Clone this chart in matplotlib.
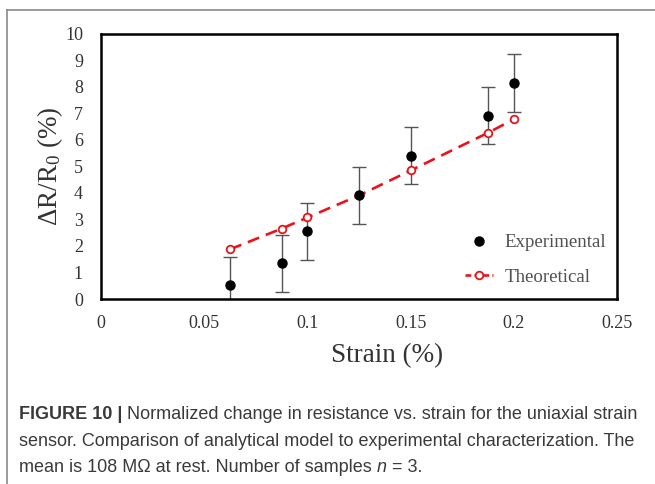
import matplotlib
matplotlib.use("Agg")
import matplotlib.pyplot as plt
from matplotlib.lines import Line2D

plt.rcParams['mathtext.fontset'] = 'custom'
plt.rcParams['mathtext.rm'] = 'Liberation Serif'
plt.rcParams['mathtext.it'] = 'Liberation Serif:italic'

# ---- data ----
strain = [0.0625, 0.0875, 0.1, 0.125, 0.15, 0.1875, 0.2]
experimental = [0.52, 1.35, 2.55, 3.90, 5.39, 6.91, 8.14]
exp_err = [1.08, 1.07, 1.07, 1.08, 1.07, 1.08, 1.08]
theoretical = [1.87, 2.65, 3.07, 3.90, 4.84, 6.26, 6.77]
x_ticks = [0, 0.05, 0.1, 0.15, 0.2, 0.25]
x_tick_labels = ['0', '0.05', '0.1', '0.15', '0.2', '0.25']
y_ticks = list(range(0, 11))
caption_bold = "FIGURE 10 | "
caption_lines = [
    "Normalized change in resistance vs. strain for the uniaxial strain",
    "sensor. Comparison of analytical model to experimental characterization. The",
    "mean is 108 MΩ at rest. Number of samples ",
]

W, H = 655, 484
fig = plt.figure(figsize=(W / 100, H / 100), dpi=100)

# outer frame lines (top and left)
fig.add_artist(Line2D([7 / W, 1], [1 - 10 / H, 1 - 10 / H], color='#8a8a8a', lw=1.2, transform=fig.transFigure))
fig.add_artist(Line2D([7 / W, 7 / W], [0, 1 - 10 / H], color='#8a8a8a', lw=1.2, transform=fig.transFigure))

ax = fig.add_axes([101 / W, 1 - 299 / H, 516 / W, 265.5 / H])
serif = 'Liberation Serif'
txtcol = '#333333'

ax.errorbar(strain, experimental, yerr=exp_err, fmt='none', ecolor='#555555',
            elinewidth=1.0, capsize=5.0, capthick=1.0, zorder=2, clip_on=True)
ax.plot(strain, theoretical, color='#e8141b', lw=1.9, linestyle=(0, (4.6, 2.7)),
        marker='o', markersize=5.5, markerfacecolor='white', markeredgecolor='#e8141b',
        markeredgewidth=1.3, zorder=3)
ax.plot(strain, experimental, linestyle='none', marker='o', markersize=6.5,
        color='black', zorder=4)

ax.set_xlim(0, 0.25)
ax.set_ylim(0, 10)
ax.set_xticks(x_ticks)
ax.set_xticklabels(x_tick_labels)
ax.set_yticks(y_ticks)
ax.tick_params(axis='both', length=0, labelsize=13, labelcolor=txtcol)
ax.tick_params(axis='x', pad=11.5)
ax.tick_params(axis='y', pad=13)
for lab in ax.get_xticklabels() + ax.get_yticklabels():
    lab.set_fontfamily(serif)
for sp in ax.spines.values():
    sp.set_linewidth(1.8)
    sp.set_color('black')

ax.set_ylabel(r'ΔR/R$_\mathregular{0}$ (%)', fontsize=19.5, family=serif, color=txtcol, labelpad=0)
fig.text(387 / W, 1 - 356 / H, 'Strain (%)', fontsize=19.5, family=serif, color=txtcol,
         ha='center', va='center')

handles = [
    Line2D([], [], linestyle='none', marker='o', markersize=6.5, color='black'),
    Line2D([], [], color='#e8141b', lw=1.9, linestyle=(0, (2.2, 1.2)), marker='o', markersize=5.5,
           markerfacecolor='white', markeredgecolor='#e8141b', markeredgewidth=1.3),
]
leg = ax.legend(handles, ['Experimental', 'Theoretical'], loc='center left',
                bbox_to_anchor=(0.705, 0.147), frameon=False, borderpad=0, borderaxespad=0,
                handlelength=1.5, handletextpad=0.6, labelspacing=0.92,
                prop={'family': serif, 'size': 13.6})
for t in leg.get_texts():
    t.set_color('#505050')

# caption
capcol = '#3a3a3a'
fig.canvas.draw()
renderer = fig.canvas.get_renderer()

def row(pieces, x0, y):
    x = x0
    for s, kw in pieces:
        t = fig.text(x, y, s, fontsize=12.95, color=capcol, va='baseline', ha='left',
                     family=['Liberation Sans', 'DejaVu Sans'], **kw)
        bb = t.get_window_extent(renderer=renderer)
        x = x + bb.width / W

ys = [1 - 419 / H, 1 - 446 / H, 1 - 472 / H]
x0 = 19 / W
row([(caption_bold, {'weight': 'bold'}), (caption_lines[0], {})], x0, ys[0])
row([(caption_lines[1], {})], x0, ys[1])
row([(caption_lines[2], {}), ('n', {'style': 'italic'}), (' = 3.', {})], x0, ys[2])

fig.savefig('out.png', dpi=100)
